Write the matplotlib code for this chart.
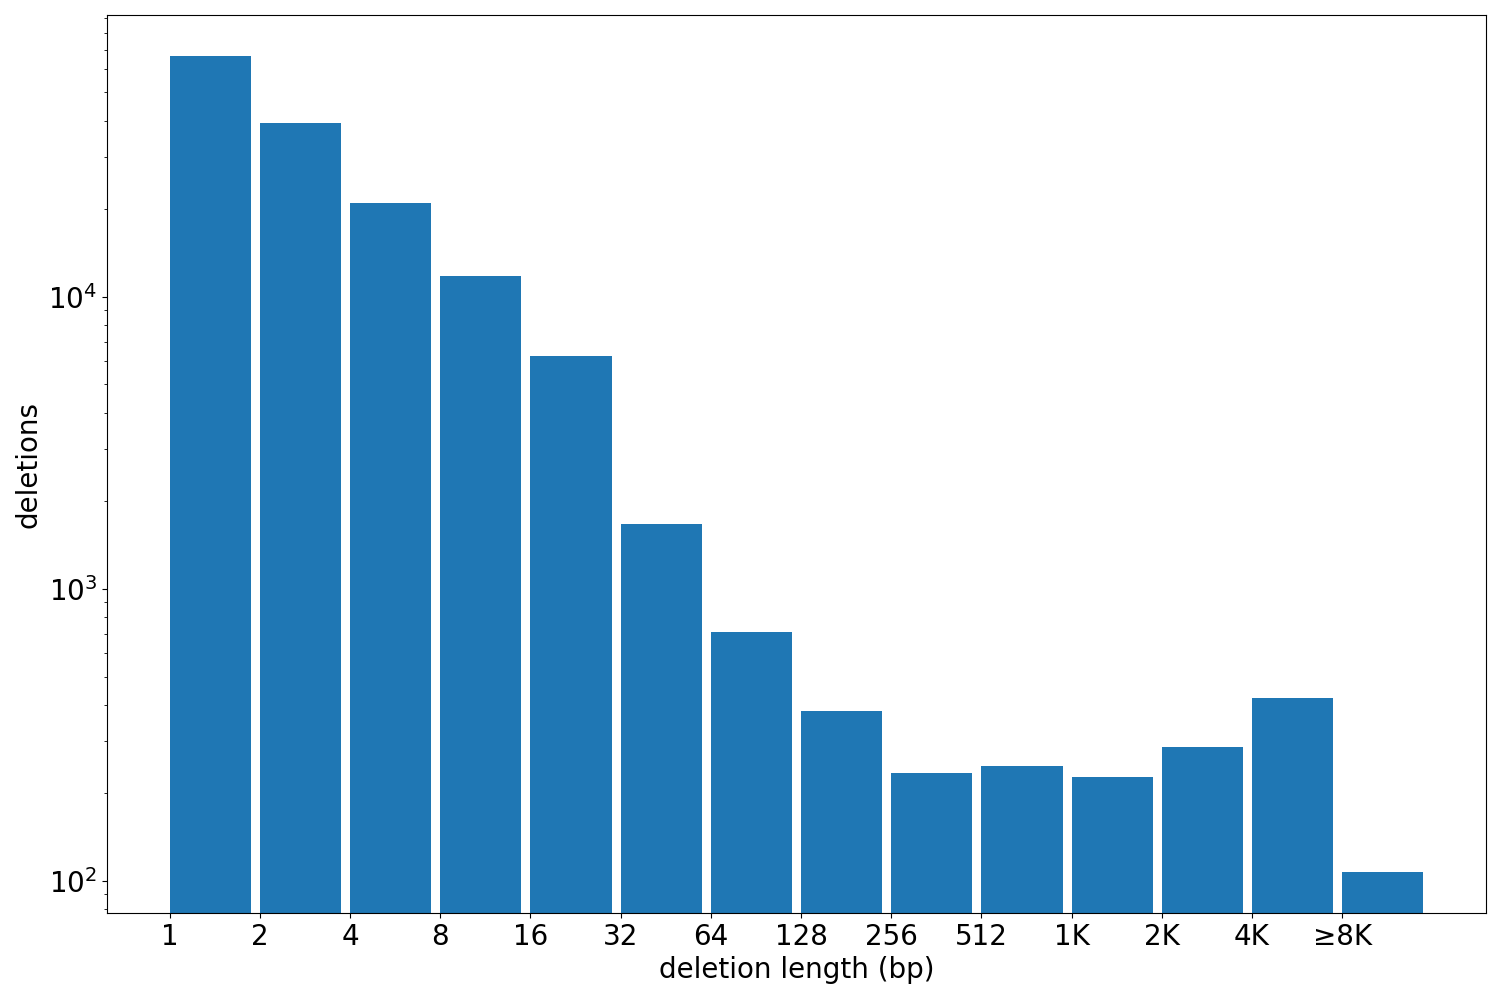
import numpy as np
import matplotlib
matplotlib.use('Agg')
import matplotlib.pyplot as plt

# deletion length bins (bp) and counts
bin_labels = ['1', '2', '4', '8', '16', '32', '64', '128', '256', '512',
              '1K', '2K', '4K', '\u22658K']
counts = [66700, 39400, 20900, 11800, 6240, 1667, 708, 380, 233, 248,
          226, 286, 424, 107]

plt.rcParams['font.size'] = 20

fig, ax = plt.subplots(figsize=(15, 10), dpi=100)
x = np.arange(len(counts))
ax.bar(x, counts, width=0.9, align='edge', color='#1f77b4')
ax.set_yscale('log')
ax.set_xticks(x)
ax.set_xticklabels(bin_labels)
ax.set_xlabel('deletion length (bp)')
ax.set_ylabel('deletions')

fig.subplots_adjust(left=0.0713, right=0.9907, top=0.985, bottom=0.087)
fig.savefig('out.png')
